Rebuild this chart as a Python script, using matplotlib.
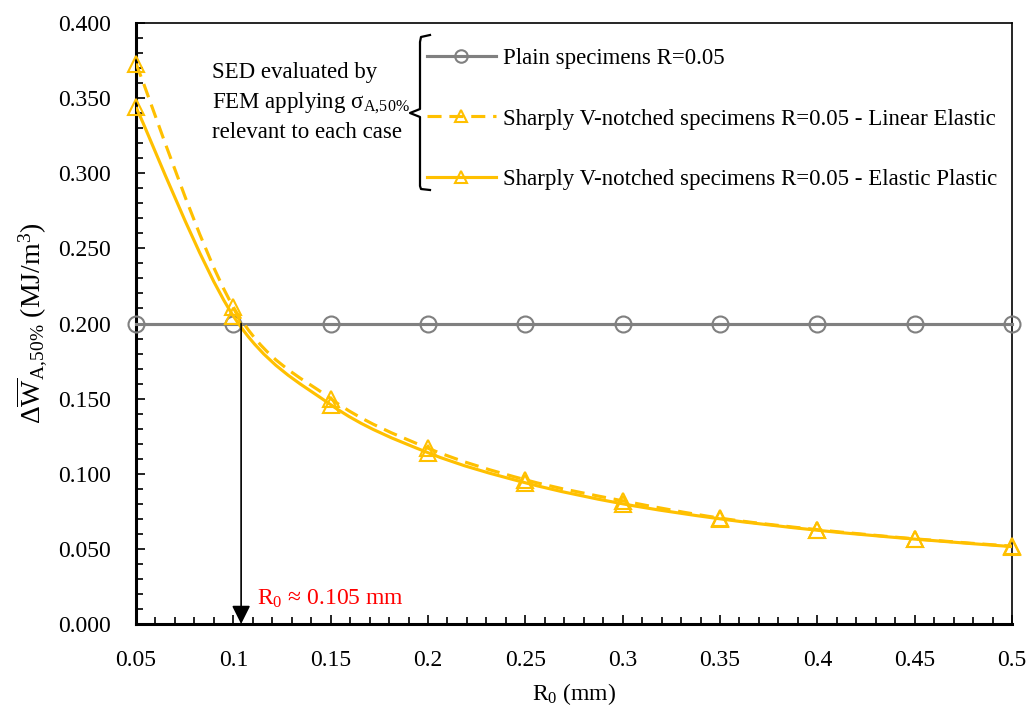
import numpy as np
import matplotlib
matplotlib.use("Agg")
import matplotlib.pyplot as plt
from matplotlib.path import Path
from matplotlib.patches import PathPatch
from matplotlib.lines import Line2D
from matplotlib.ticker import MultipleLocator, FormatStrFormatter

plt.rcParams['font.family'] = ['Liberation Serif', 'DejaVu Serif']
plt.rcParams['mathtext.fontset'] = 'custom'
plt.rcParams['mathtext.rm'] = 'Liberation Serif'
plt.rcParams['mathtext.it'] = 'Liberation Serif:italic'

# data
r0 = [0.05, 0.10, 0.15, 0.20, 0.25, 0.30, 0.35, 0.40, 0.45, 0.50]
plain = [0.200] * 10
linear_elastic = [0.373, 0.211, 0.150, 0.117, 0.096, 0.082, 0.0705, 0.0628, 0.0567, 0.0518]
elastic_plastic = [0.344, 0.205, 0.146, 0.114, 0.094, 0.080, 0.0700, 0.0624, 0.0565, 0.0515]
r0_cross = 0.104

labels = ["Plain specimens R=0.05",
          "Sharply V-notched specimens R=0.05 - Linear Elastic",
          "Sharply V-notched specimens R=0.05 - Elastic Plastic"]

GRAY = '#808080'
GOLD = '#FFC000'
FS = 17


def smooth_path(x, y):
    # excel-like smoothed line (catmull-rom -> bezier)
    n = len(x)
    verts = [(x[0], y[0])]
    codes = [Path.MOVETO]
    for i in range(n - 1):
        x0, y0 = (x[i - 1], y[i - 1]) if i > 0 else (x[i], y[i])
        x3, y3 = (x[i + 2], y[i + 2]) if i + 2 < n else (x[i + 1], y[i + 1])
        c1 = (x[i] + (x[i + 1] - x0) / 6, y[i] + (y[i + 1] - y0) / 6)
        c2 = (x[i + 1] - (x3 - x[i]) / 6, y[i + 1] - (y3 - y[i]) / 6)
        verts += [c1, c2, (x[i + 1], y[i + 1])]
        codes += [Path.CURVE4] * 3
    return Path(verts, codes)


W, H = 1027, 718
fig = plt.figure(figsize=(W / 100, H / 100), dpi=100)
ax = fig.add_axes([136 / W, 1 - 624 / H, (1012 - 136) / W, (624 - 23) / H])

lw = 2.25
dash = (0, (4.5, 2.5))

# plain
ax.plot(r0, plain, color=GRAY, lw=lw, marker='o', ms=11.5, mfc='none', mec=GRAY, mew=1.5, zorder=3,
        clip_on=False)

# notched, smoothed lines
ax.add_patch(PathPatch(smooth_path(r0, linear_elastic), fill=False, ec=GOLD, lw=lw, linestyle=dash, zorder=4))
ax.add_patch(PathPatch(smooth_path(r0, elastic_plastic), fill=False, ec=GOLD, lw=lw, zorder=4))
ax.plot(r0, linear_elastic, ls='none', marker='^', ms=12, mfc='none', mec=GOLD, mew=1.5, zorder=5, clip_on=False)
ax.plot(r0, elastic_plastic, ls='none', marker='^', ms=12, mfc='none', mec=GOLD, mew=1.5, zorder=5, clip_on=False)

# arrow at crossing
ax.annotate('', xy=(r0_cross, 0.0), xytext=(r0_cross, 0.200),
            arrowprops=dict(arrowstyle='-|>', color='black', lw=1.2, mutation_scale=28,
                            shrinkA=0, shrinkB=0), zorder=6)
ax.text(r0_cross + 0.008, 0.013, r'R$_0$ ≈ 0.105 mm', color='#FF0000', fontsize=FS,
        ha='left', va='baseline')

ax.set_xlim(0.05, 0.5)
ax.set_ylim(0.0, 0.4)
ax.xaxis.set_minor_locator(MultipleLocator(0.01))
ax.yaxis.set_major_locator(MultipleLocator(0.05))
ax.yaxis.set_minor_locator(MultipleLocator(0.01))
ax.yaxis.set_major_formatter(FormatStrFormatter('%.3f'))
ax.set_xticks(r0)
ax.set_xticklabels(['0.05', '0.1', '0.15', '0.2', '0.25', '0.3', '0.35', '0.4', '0.45', '0.5'])
ax.tick_params(which='both', direction='in', top=False, right=False, labelsize=FS, width=1.2)
ax.tick_params(which='major', length=6.5)
ax.tick_params(which='minor', length=5)
ax.tick_params(axis='y', pad=18)
ax.tick_params(axis='x', pad=19)
for s in ['left', 'bottom']:
    ax.spines[s].set_linewidth(2.2)
for s in ['top', 'right']:
    ax.spines[s].set_linewidth(1.2)

ax.set_xlabel(r'R$_0$ (mm)', fontsize=FS, labelpad=7)
ax.set_ylabel(r'$\Delta\overline{\mathrm{W}}_{\mathrm{A,\!50\%}}$ (MJ/m$^3$)', fontsize=20, labelpad=6)

# legend
handles = [Line2D([], [], color=GRAY, lw=lw, marker='o', ms=9, mfc='none', mec=GRAY, mew=1.5),
           Line2D([], [], color=GOLD, lw=lw, ls=dash, marker='^', ms=9, mfc='none', mec=GOLD, mew=1.5),
           Line2D([], [], color=GOLD, lw=lw, marker='^', ms=9, mfc='none', mec=GOLD, mew=1.5)]
fig.legend(handles, labels, loc='upper left', bbox_to_anchor=(427 / W, 1 - 48 / H),
           frameon=False, fontsize=16.5, handlelength=3.0, handletextpad=0.3,
           labelspacing=1.72, borderpad=0, borderaxespad=0)

# note + brace
note = ['SED evaluated by', r'FEM applying σ$_{\mathrm{A,\!50\%}}$', 'relevant to each case']
for k, t in enumerate(note):
    fig.text(212 / W, 1 - (78 + 30 * k) / H, t, fontsize=16.5, ha='left', va='baseline')

bx = np.array([430, 421, 420, 420, 410, 420, 420, 421, 430])
by = np.array([35, 37, 42, 109, 113, 117, 186, 189, 190])
fig.add_artist(Line2D(bx / W, 1 - by / H, color='black', lw=1.6, transform=fig.transFigure))

fig.savefig('out.png', dpi=100)
